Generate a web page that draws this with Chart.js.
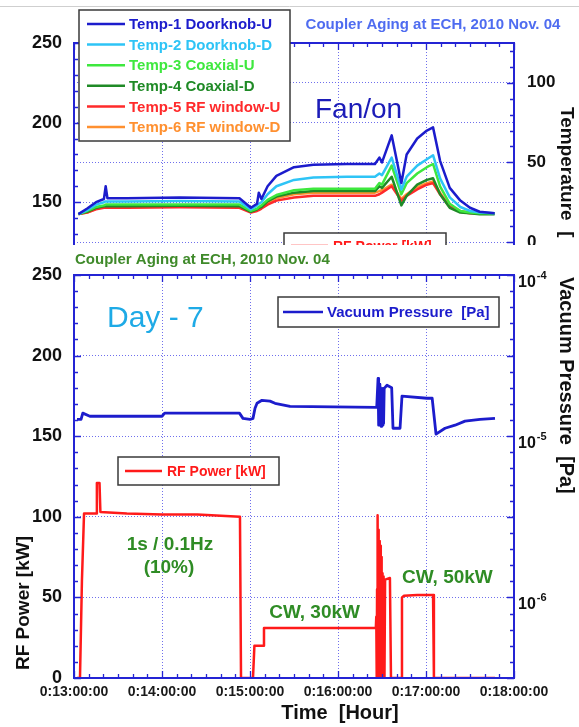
<!DOCTYPE html>
<html>
<head>
<meta charset="utf-8">
<script src="https://cdn.jsdelivr.net/npm/chart.js@4.4.1/dist/chart.umd.min.js"></script>
<style>
  body { margin: 0; background: #fff; }
  #wrap { position: relative; width: 579px; height: 727px; overflow: hidden; background: #fff; }
  canvas { position: absolute; left: 0; }
  #tempChart { top: 0; }
  #rfChart { top: 245px; }
</style>
</head>
<body>
<div id="wrap">
  <canvas id="tempChart" width="579" height="245"></canvas>
  <canvas id="rfChart" width="579" height="482"></canvas>
</div>
<script>
const FONT = "'Liberation Sans', Arial, sans-serif";
const AXIS_BLUE = "#2424d4";
const GRID_BLUE = "rgba(95,95,235,0.9)";

// time axis (hours)
const hourTicks = [13, 14, 15, 16, 17, 18];
const hourLabels = ["0:13:00:00", "0:14:00:00", "0:15:00:00", "0:16:00:00", "0:17:00:00", "0:18:00:00"];

// top panel: temperatures
const tempLabels = ["Temp-1 Doorknob-U", "Temp-2 Doorknob-D", "Temp-3 Coaxial-U",
                    "Temp-4 Coaxial-D", "Temp-5 RF window-U", "Temp-6 RF window-D"];
const tempColors = ["#1c1ccc", "#2ec4f6", "#3ee83e", "#1f8a26", "#ff2a2a", "#ff9030"];

const tempHours = [13.05, 13.15, 13.25, 13.34, 13.36, 13.38, 13.6, 14.2, 14.88, 15.01, 15.08,
                   15.10, 15.13, 15.2, 15.3, 15.5, 15.72, 16.1, 16.42, 16.47, 16.5, 16.61,
                   16.72, 16.78, 16.9, 17.01, 17.08, 17.16, 17.27, 17.39, 17.5, 17.61, 17.78];
const temp1 = [17.5, 21, 25, 27, 35, 27.5, 27.5, 28, 27.5, 21.5, 24, 31, 27, 35, 41.5, 47, 48.5,
               49, 49, 53, 50, 67, 37, 55, 65, 70, 72, 51, 34, 26, 21.5, 19, 18];
const temp2 = [17.5, 20, 23.5, 25, 25.5, 25.5, 25.5, 25.8, 25.5, 20.5, 23, 24, 25, 30, 35, 39, 40.5,
               41, 41, 43, 42, 53, 33, 41, 48, 52, 54.5, 40, 28, 22, 19.5, 18.5, 18];
const temp3 = [17.5, 19.5, 22, 23, 23.5, 23.5, 23.5, 23.5, 23.5, 19.5, 21, 22, 23, 26.5, 29.5, 32.5, 33.5,
               33.5, 33.5, 37, 36, 48, 30, 37, 43, 47, 49, 35, 24, 19.5, 18.5, 18, 18];
const temp4 = [17.5, 19, 21.5, 22.5, 22.5, 22.5, 22.5, 22.8, 22.5, 19, 20.5, 21.5, 22, 25.5, 28.5, 31, 32,
               32, 32, 35, 34, 41, 23, 29, 36, 39, 40, 30, 21.5, 18.5, 18, 17.5, 17.5];
const temp5 = [17.5, 18.5, 20.5, 21.5, 21.5, 21.5, 21.5, 21.8, 21.5, 18.5, 19.5, 20, 21, 23.5, 26, 28, 29,
               29, 29, 30, 31, 35, 26, 29, 33, 36, 37, 30, 22, 19, 18, 18, 18];
const temp6 = [17.5, 18.5, 21, 22, 22, 22, 22, 22.3, 22, 19, 20, 20.5, 21.5, 24.5, 27.5, 30, 31,
               31, 31, 32, 32.5, 36, 27, 30, 34.5, 37, 38, 31, 22.5, 19.5, 18.5, 18, 18];

const topLeftTicks = [125, 150, 175, 200, 225, 250];
const tempAxisTicks = [0, 50, 100];

// bottom panel: RF power and vacuum
const rfHours = [13.034, 13.068, 13.09, 13.114, 13.25, 13.26, 13.29, 13.30, 13.6, 14.0,
                 14.4, 14.886, 14.898, 15.034, 15.05, 15.148, 15.159, 15.6, 16.0, 16.43,
                 16.435, 16.44, 16.444, 16.448, 16.452, 16.456, 16.46, 16.464, 16.468, 16.472,
                 16.476, 16.48, 16.484, 16.488, 16.492, 16.496, 16.5, 16.504, 16.508, 16.512,
                 16.516, 16.52, 16.524, 16.528, 16.535, 16.59, 16.602, 16.716, 16.727, 16.75,
                 16.9, 17.08, 17.09, 17.784];
const rfPower = [0, 0, 60, 102, 102, 121, 121, 103, 102, 101.5,
                 101.5, 100, 0, 0, 20, 20, 31, 31, 31, 31,
                 38, 0, 55, 0, 101, 0, 92, 0, 70, 0,
                 85, 0, 82, 0, 75, 0, 65, 0, 62, 0,
                 63, 0, 60, 0, 61, 62, 0, 0, 50, 51,
                 51.5, 51.5, 0, 0];

const vacHours = [13.034, 13.08, 13.1, 13.18, 13.41, 14.0, 14.03, 14.88, 14.92, 15.0, 15.034, 15.057,
                  15.08, 15.136, 15.227, 15.284, 15.455, 16.44, 16.455, 16.462, 16.469, 16.476,
                  16.483, 16.49, 16.497, 16.504, 16.511, 16.518, 16.525, 16.534, 16.557, 16.61,
                  16.625, 16.705, 16.727, 17.011, 17.07, 17.114, 17.216, 17.33, 17.443, 17.614, 17.784];
const vacPressure = [1.27e-5, 1.27e-5, 1.39e-5, 1.33e-5, 1.33e-5, 1.33e-5, 1.39e-5, 1.39e-5, 1.29e-5,
                     1.27e-5, 1.29e-5, 1.49e-5, 1.60e-5, 1.67e-5, 1.65e-5, 1.60e-5, 1.53e-5, 1.51e-5,
                     2.28e-5, 1.17e-5, 2.1e-5, 1.17e-5, 2.0e-5, 1.15e-5, 1.95e-5, 1.17e-5, 1.98e-5,
                     1.2e-5, 1.98e-5, 1.98e-5, 2.07e-5, 2.0e-5, 1.12e-5, 1.12e-5, 1.77e-5, 1.72e-5,
                     1.72e-5, 1.03e-5, 1.12e-5, 1.17e-5, 1.24e-5, 1.27e-5, 1.29e-5];

const rfAxisTicks = [0, 50, 100, 150, 200, 250];
const vacAxisTicks = [1e-4, 1e-5, 1e-6];
const vacExponents = ["-4", "-5", "-6"];

const pts = (xs, ys) => xs.map((x, i) => ({ x: x, y: ys[i] }));

// frame, inward ticks, legends and free text
const decor = {
  id: "decor",
  beforeDraw(chart) {
    const ctx = chart.ctx;
    ctx.save();
    ctx.fillStyle = "#fff";
    ctx.fillRect(0, 0, chart.width, chart.height);
    ctx.restore();
  },
  afterDraw(chart, args, o) {
    const ctx = chart.ctx, a = chart.chartArea, s = chart.scales;
    ctx.save();

    // inward tick marks
    ctx.strokeStyle = AXIS_BLUE;
    ctx.lineWidth = 1.3;
    ctx.beginPath();
    const n = Math.round((s.x.max - s.x.min) * 6);
    for (let k = 0; k <= n; k++) {
      const px = Math.round(s.x.getPixelForValue(s.x.min + k / 6)) + 0.5;
      const len = k % 6 === 0 ? 7 : 4;
      ctx.moveTo(px, a.top); ctx.lineTo(px, a.top + len);
      if (!o.openBottom) { ctx.moveTo(px, a.bottom); ctx.lineTo(px, a.bottom - len); }
    }
    const side = (sc, x, dir) => {
      for (let v = Math.ceil(sc.min / 10) * 10; v <= sc.max; v += 10) {
        const py = Math.round(sc.getPixelForValue(v)) + 0.5;
        const len = v % 50 === 0 ? 7 : 4;
        ctx.moveTo(x, py); ctx.lineTo(x + dir * len, py);
      }
    };
    side(s.y, a.left, 1);
    side(s[o.rightTicks], a.right, -1);
    ctx.stroke();

    // frame
    ctx.lineWidth = 2;
    ctx.beginPath();
    if (o.openBottom) {
      ctx.moveTo(a.left, chart.height); ctx.lineTo(a.left, a.top);
      ctx.lineTo(a.right, a.top); ctx.lineTo(a.right, chart.height);
    } else {
      ctx.rect(a.left, a.top, a.right - a.left, a.bottom - a.top);
    }
    ctx.stroke();

    // log axis labels
    if (o.logLabels) {
      const sc = s[o.logLabels.id];
      o.logLabels.values.forEach((v, i) => {
        const py = sc.getPixelForValue(v);
        ctx.fillStyle = "#111";
        ctx.textAlign = "left";
        ctx.textBaseline = "alphabetic";
        ctx.font = "bold 16px " + FONT;
        ctx.fillText("10", a.right + 4, py + 12);
        const w = ctx.measureText("10").width;
        ctx.font = "bold 11px " + FONT;
        ctx.fillText(o.logLabels.exps[i], a.right + 5 + w, py + 4);
      });
    }

    // legends
    (o.legends || []).forEach(L => {
      ctx.fillStyle = "#fff";
      ctx.fillRect(L.box[0], L.box[1], L.box[2] - L.box[0], L.box[3] - L.box[1]);
      ctx.strokeStyle = "#3a3a3a";
      ctx.lineWidth = 1.5;
      ctx.strokeRect(L.box[0], L.box[1], L.box[2] - L.box[0], L.box[3] - L.box[1]);
      L.items.forEach((it, i) => {
        const ds = typeof it === "number" ? chart.data.datasets[it] : it;
        const y = L.y0 + i * L.dy;
        ctx.strokeStyle = ds.borderColor;
        ctx.lineWidth = 2.5;
        ctx.beginPath();
        ctx.moveTo(L.line[0], y); ctx.lineTo(L.line[1], y);
        ctx.stroke();
        ctx.fillStyle = ds.borderColor;
        ctx.font = L.font;
        ctx.textAlign = "left";
        ctx.textBaseline = "middle";
        ctx.fillText(ds.label, L.textX, y + 1);
      });
    });

    // free text
    (o.texts || []).forEach(t => {
      ctx.save();
      ctx.font = t.font;
      ctx.fillStyle = t.color;
      ctx.textAlign = t.align || "left";
      ctx.textBaseline = t.baseline || "alphabetic";
      ctx.translate(t.x, t.y);
      if (t.rot) ctx.rotate(t.rot);
      ctx.fillText(t.text, 0, 0);
      ctx.restore();
    });

    // thin grey edge of the pasted picture
    if (o.topEdge) {
      ctx.strokeStyle = "#cfcfcf";
      ctx.lineWidth = 1;
      ctx.beginPath();
      ctx.moveTo(0, 6.5); ctx.lineTo(chart.width, 6.5);
      ctx.stroke();
    }
    ctx.restore();
  }
};

const noPadY = ax => { ax.paddingTop = 0; ax.paddingBottom = 0; };

const xScale = (showLabels, h) => ({
  type: "linear",
  min: 13, max: 18,
  afterBuildTicks: ax => { ax.ticks = hourTicks.map(v => ({ value: v })); },
  afterFit: ax => { ax.height = h; ax.paddingLeft = 0; ax.paddingRight = 0; },
  grid: { color: GRID_BLUE, lineWidth: 1, drawTicks: false },
  border: { display: false, dash: [1, 2] },
  ticks: {
    display: showLabels,
    padding: 6,
    maxRotation: 0,
    color: "#1a1a1a",
    font: { family: FONT, size: 14, weight: "bold" },
    callback: v => hourLabels[hourTicks.indexOf(v)]
  }
});

// ---------- top chart ----------
new Chart(document.getElementById("tempChart"), {
  type: "line",
  data: {
    datasets: [temp1, temp2, temp3, temp4, temp5, temp6].map((d, i) => ({
      label: tempLabels[i],
      data: pts(tempHours, d),
      borderColor: tempColors[i],
      borderWidth: 2.5,
      pointRadius: 0,
      tension: 0,
      borderJoinStyle: "round",
      yAxisID: "y2"
    }))
  },
  options: {
    responsive: false,
    animation: false,
    devicePixelRatio: 1,
    layout: { padding: { top: 43, left: 0, right: 0, bottom: 0 } },
    plugins: {
      legend: { display: false },
      tooltip: { enabled: false },
      decor: {
        openBottom: true,
        rightTicks: "y2",
        topEdge: true,
        legends: [
          { box: [79, 10, 290, 141], line: [87, 125], textX: 129, y0: 24, dy: 20.6,
            font: "bold 15px " + FONT, items: [0, 1, 2, 3, 4, 5] },
          { box: [284, 233, 446, 275], line: [291, 328], textX: 333, y0: 246, dy: 20,
            font: "bold 14px " + FONT, items: [{ label: "RF Power [kW]", borderColor: "#ff1a1a" }] }
        ],
        texts: [
          { text: "Coupler Aging at ECH, 2010 Nov. 04", x: 433, y: 29, align: "center",
            font: "bold 15px " + FONT, color: "#4f6cf0" },
          { text: "Fan/on", x: 315, y: 118, font: "28px " + FONT, color: "#1c1cb8" },
          { text: "Temperature  [", x: 566, y: 107, rot: Math.PI / 2, baseline: "middle",
            font: "bold 19px " + FONT, color: "#111" }
        ]
      }
    },
    scales: {
      x: xScale(false, 3),
      y: {
        position: "left",
        min: 125, max: 250,
        afterBuildTicks: ax => { ax.ticks = topLeftTicks.map(v => ({ value: v })); },
        afterFit: ax => { ax.width = 74; noPadY(ax); },
        grid: { color: GRID_BLUE, lineWidth: 1, drawTicks: false },
        border: { display: false, dash: [1, 2] },
        ticks: {
          padding: 12,
          color: "#111",
          font: { family: FONT, size: 18, weight: "bold" },
          callback: v => (v % 50 === 0 ? String(v) : "")
        }
      },
      y2: {
        position: "right",
        min: 0, max: 125,
        afterBuildTicks: ax => { ax.ticks = tempAxisTicks.map(v => ({ value: v })); },
        afterFit: ax => { ax.width = 65; noPadY(ax); },
        grid: { display: false, drawTicks: false },
        border: { display: false },
        ticks: {
          padding: 13,
          color: "#111",
          font: { family: FONT, size: 17, weight: "bold" }
        }
      }
    }
  },
  plugins: [decor]
});

// ---------- bottom chart ----------
new Chart(document.getElementById("rfChart"), {
  type: "line",
  data: {
    datasets: [
      {
        label: "Vacuum Pressure  [Pa]",
        data: pts(vacHours, vacPressure),
        borderColor: "#1c1ccc",
        borderWidth: 2.8,
        pointRadius: 0,
        tension: 0,
        borderJoinStyle: "round",
        yAxisID: "y2"
      },
      {
        label: "RF Power [kW]",
        data: pts(rfHours, rfPower),
        borderColor: "#ff1a1a",
        borderWidth: 2.5,
        pointRadius: 0,
        tension: 0,
        borderJoinStyle: "round",
        yAxisID: "y"
      }
    ]
  },
  options: {
    responsive: false,
    animation: false,
    devicePixelRatio: 1,
    layout: { padding: { top: 30, left: 0, right: 0, bottom: 0 } },
    plugins: {
      legend: { display: false },
      tooltip: { enabled: false },
      decor: {
        rightTicks: "y",
        logLabels: { id: "y2", values: vacAxisTicks, exps: vacExponents },
        legends: [
          { box: [278, 52, 499, 82], line: [283, 323], textX: 327, y0: 67, dy: 20,
            font: "bold 15px " + FONT, items: [0] },
          { box: [118, 212, 279, 240], line: [125, 162], textX: 167, y0: 226, dy: 20,
            font: "bold 14px " + FONT, items: [1] }
        ],
        texts: [
          { text: "Coupler Aging at ECH, 2010 Nov. 04", x: 75, y: 19,
            font: "bold 15px " + FONT, color: "#3f8a2a" },
          { text: "Day - 7", x: 107, y: 82, font: "30px " + FONT, color: "#1eaae6" },
          { text: "1s / 0.1Hz", x: 170, y: 305, align: "center",
            font: "bold 19px " + FONT, color: "#2f8c25" },
          { text: "(10%)", x: 169, y: 328, align: "center",
            font: "bold 19px " + FONT, color: "#2f8c25" },
          { text: "CW, 30kW", x: 360, y: 373, align: "right",
            font: "bold 19px " + FONT, color: "#2f8c25" },
          { text: "CW, 50kW", x: 402, y: 338,
            font: "bold 19px " + FONT, color: "#2f8c25" },
          { text: "Time  [Hour]", x: 340, y: 474, align: "center",
            font: "bold 20px " + FONT, color: "#111" },
          { text: "RF Power [kW]", x: 24, y: 358, rot: -Math.PI / 2, align: "center", baseline: "middle",
            font: "bold 19px " + FONT, color: "#111" },
          { text: "Vacuum Pressure  [Pa]", x: 566, y: 32, rot: Math.PI / 2, baseline: "middle",
            font: "bold 20px " + FONT, color: "#111" }
        ]
      }
    },
    scales: {
      x: xScale(true, 49),
      y: {
        position: "left",
        min: 0, max: 250,
        afterBuildTicks: ax => { ax.ticks = rfAxisTicks.map(v => ({ value: v })); },
        afterFit: ax => { ax.width = 74; noPadY(ax); },
        grid: { color: GRID_BLUE, lineWidth: 1, drawTicks: false },
        border: { display: false, dash: [1, 2] },
        ticks: {
          padding: 12,
          color: "#111",
          font: { family: FONT, size: 18, weight: "bold" }
        }
      },
      y2: {
        type: "logarithmic",
        position: "right",
        min: Math.pow(10, -6.5), max: 1e-4,
        afterBuildTicks: ax => { ax.ticks = vacAxisTicks.map(v => ({ value: v })); },
        afterFit: ax => { ax.width = 65; noPadY(ax); },
        grid: { display: false, drawTicks: false },
        border: { display: false },
        ticks: { display: false }
      }
    }
  },
  plugins: [decor]
});
</script>
</body>
</html>
